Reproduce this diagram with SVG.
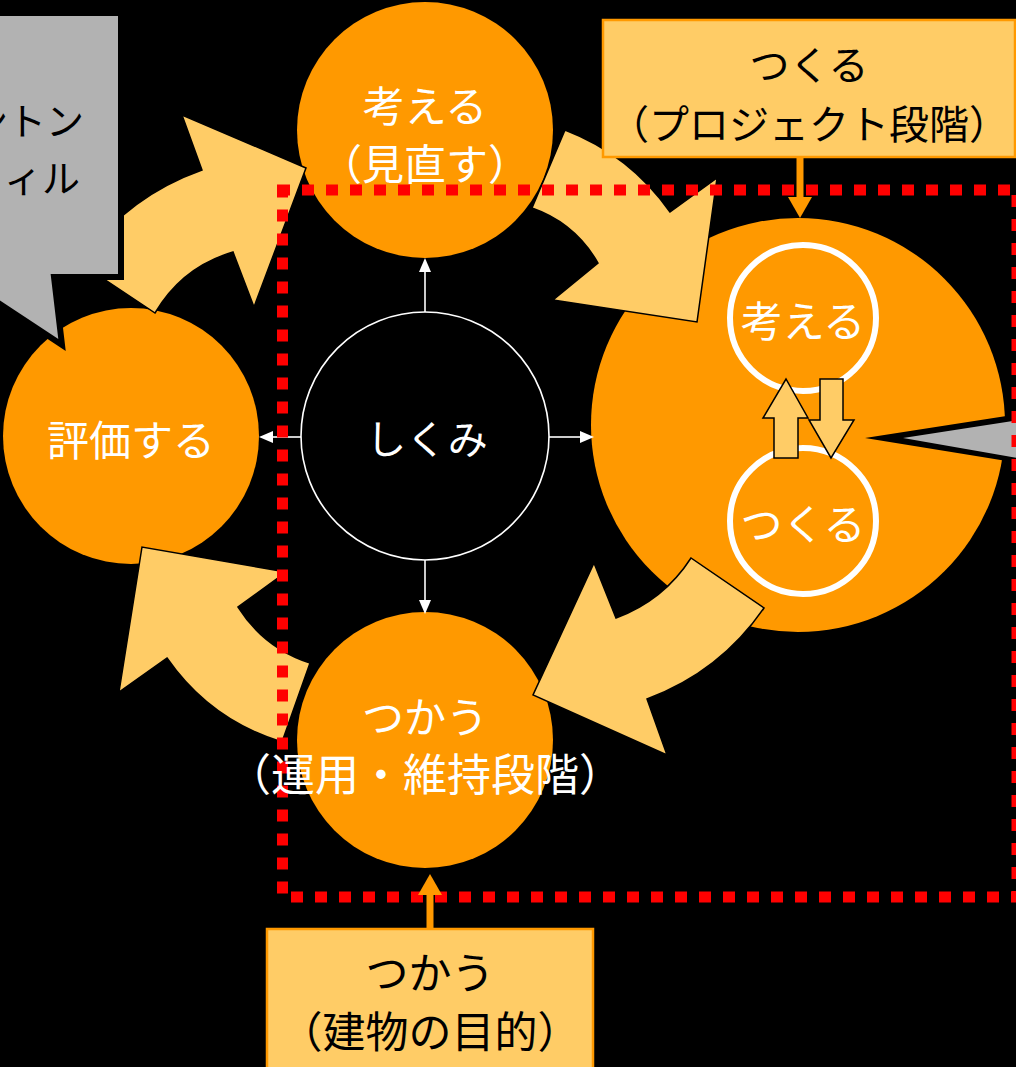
<svg xmlns="http://www.w3.org/2000/svg" width="1016" height="1067" viewBox="0 0 1016 1067">
<style>
.t{font-family:"Noto Sans CJK JP","Noto Sans",sans-serif;text-anchor:middle}
.w{fill:#fff}
.k{fill:#000}
.h{font-feature-settings:"halt"}
.orange{fill:#FF9900}
.band{fill:#FFCC66;stroke:#000;stroke-width:1.5;stroke-linejoin:miter}
.box{fill:#FFCC66;stroke:#FF9900;stroke-width:2.5}
.wl{stroke:#fff;stroke-width:1.6;fill:none}
.ol{stroke:#FF9900;stroke-width:7;fill:none}
</style>
<defs>
<marker id="wa" viewBox="0 0 14 12" refX="0" refY="6" markerWidth="14" markerHeight="12" markerUnits="userSpaceOnUse" orient="auto"><path d="M0,0 L14,6 L0,12 Z" fill="#fff"/></marker>
<marker id="oa" viewBox="0 0 21 24" refX="0" refY="12" markerWidth="21" markerHeight="24" markerUnits="userSpaceOnUse" orient="auto"><path d="M0,0 L21,12 L0,24 Z" fill="#FF9900"/></marker>
</defs>
<rect x="0" y="0" width="1016" height="1067" fill="#000"/>

<g id="node-kangaeru"><circle cx="425" cy="130" r="128" class="orange"/></g>
<g id="node-hyouka"><circle cx="131" cy="436" r="128" class="orange"/></g>
<g id="node-tsukau"><circle cx="425" cy="740" r="128" class="orange"/></g>
<g id="node-tsukuru-big">
<circle cx="798" cy="425" r="207" class="orange"/>
<circle cx="803" cy="318" r="73" fill="#FF9900" stroke="#fff" stroke-width="6"/>
<circle cx="803" cy="521" r="73" fill="#FF9900" stroke="#fff" stroke-width="6"/>
</g>
<g id="node-shikumi"><circle cx="425" cy="436" r="124" fill="#000" stroke="#fff" stroke-width="1.6"/></g>

<g id="connectors">
<path class="band" d="M80,263 Q126,197 202,170 L182,115 L306,168 L254,307 L233,252 Q182,267 155,313 Z"/>
<path class="band" d="M565,130 Q630,155 670,212 L717,178 L697,322 L553,300 L598,263 Q575,223 532,208 Z"/>
<path class="band" d="M764,608 Q720,672 647,699 L667,755 L533,695 L594,563 L616,618 Q664,600 691,558 Z"/>
<path class="band" d="M282,742 Q210,720 167,658 L119,692 L142,547 L286,572 L238,607 Q264,648 310,663 Z"/>
<path class="band" d="M774,458 L774,418 L763,418 L786,379 L808,418 L798,418 L798,458 Z"/>
<path class="band" d="M820,379 L843,379 L843,420 L854,420 L831,458 L809,420 L820,420 Z"/>
<line class="wl" x1="425" y1="312" x2="425" y2="272" marker-end="url(#wa)"/>
<line class="wl" x1="301" y1="437" x2="273" y2="437" marker-end="url(#wa)"/>
<line class="wl" x1="549" y1="437" x2="580" y2="437" marker-end="url(#wa)"/>
<line class="wl" x1="425" y1="560" x2="425" y2="600" marker-end="url(#wa)"/>
</g>

<g id="callout-left">
<path d="M-10,13 H121 V277 H54 L62,345 L-3,302 L-10,298 Z" fill="#B2B2B2" stroke="#000" stroke-width="6"/>
<text class="t k" x="84" y="135" font-size="38" style="text-anchor:end">ントン</text>
<text class="t k" x="80" y="192" font-size="38" style="text-anchor:end">ィル</text>
</g>
<g id="callout-right">
<polygon points="865,438 1016,414.5 1016,462.5" fill="#000"/>
<polygon points="903,438 1016,420.5 1016,457.8" fill="#B2B2B2"/>
</g>

<rect id="boundary" x="282.5" y="190" width="734.5" height="707" fill="none" stroke="#FF0000" stroke-width="11" stroke-dasharray="12 12" stroke-dashoffset="4.5"/>

<g id="orange-connectors">
<line class="ol" x1="800" y1="157" x2="800" y2="197" marker-end="url(#oa)"/>
<line class="ol" x1="430" y1="929" x2="430" y2="895" marker-end="url(#oa)"/>
</g>

<g id="box-tsukuru">
<rect class="box" x="603" y="20" width="412" height="137"/>
<text class="t k" x="809" y="80" font-size="40">つくる</text>
<text class="t k" x="809" y="139" font-size="40"><tspan class="h">（</tspan>プロジェクト段階<tspan class="h">）</tspan></text>
</g>
<g id="box-tsukau">
<rect class="box" x="267" y="929" width="326" height="150"/>
<text class="t k" x="430" y="989" font-size="43">つかう</text>
<text class="t k" x="430" y="1048" font-size="43"><tspan class="h">（</tspan>建物の目的<tspan class="h">）</tspan></text>
</g>

<g id="labels">
<text class="t w" x="425" y="122" font-size="42">考える</text>
<text class="t w" x="425" y="180" font-size="42"><tspan class="h">（</tspan>見直す<tspan class="h">）</tspan></text>
<text class="t w" x="131" y="456" font-size="42">評価する</text>
<text class="t w" x="425" y="733" font-size="42">つかう</text>
<text class="t w" x="425" y="791" font-size="44"><tspan class="h">（</tspan>運用・維持段階<tspan class="h">）</tspan></text>
<text class="t w" x="803" y="337" font-size="42">考える</text>
<text class="t w" x="803" y="540" font-size="42">つくる</text>
<text class="t w" x="427" y="454" font-size="40">しくみ</text>
</g>
</svg>
